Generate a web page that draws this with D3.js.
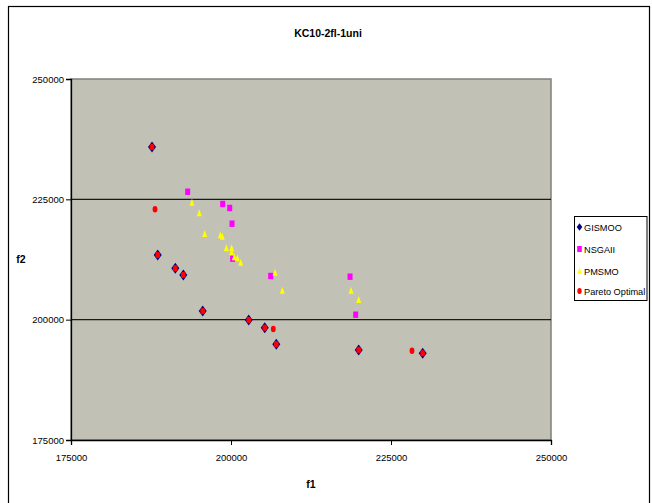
<!DOCTYPE html>
<html><head><meta charset="utf-8">
<script src="https://cdn.jsdelivr.net/npm/d3@7"></script>
<style>body{margin:0;background:#fff}svg{display:block}text{font-family:"Liberation Sans",Arial,sans-serif}</style>
</head><body><div id="chart"></div>
<script>
const xTicks = [175000, 200000, 225000, 250000];
const yTicks = [175000, 200000, 225000, 250000];
const seriesNames = ["GISMOO", "NSGAII", "PMSMO", "Pareto Optimal"];
const gismooF1 = [187660, 188550, 191300, 192550, 195580, 202770, 205270, 207080, 219950, 229950];
const gismooF2 = [235870, 213430, 210670, 209280, 201800, 199930, 198330, 194880, 193700, 193010];
const nsgaF1 = [193230, 198700, 199800, 200160, 200260, 206200, 218600, 219480];
const nsgaF2 = [226580, 224030, 223200, 219940, 212670, 209070, 208930, 201030];
const pmsmoF1 = [193900, 195050, 195890, 198330, 198640, 199270, 200100, 200100, 200520, 200990, 201520, 206880, 208020, 218750, 219950];
const pmsmoF2 = [224300, 222100, 217800, 217530, 217240, 214820, 214820, 214000, 212960, 212750, 211840, 209760, 206020, 206020, 204080];
const paretoF1 = [187660, 188550, 191300, 192550, 195580, 202770, 205270, 207080, 219950, 229950, 188130, 206610, 228280];
const paretoF2 = [235870, 213430, 210670, 209280, 201800, 199930, 198330, 194880, 193700, 193010, 222930, 198060, 193550];

const W = 652, H = 503;
const svg = d3.select("#chart").append("svg").attr("width", W).attr("height", H);
const x = d3.scaleLinear().domain([175000, 250000]).range([71, 551]);
const y = d3.scaleLinear().domain([175000, 250000]).range([440, 79]);

// outer frame
svg.append("rect").attr("x", 8.5).attr("y", 6.5).attr("width", 641).attr("height", 500)
  .attr("fill", "#fff").attr("stroke", "#000").attr("stroke-width", 1.2);

// plot area
svg.append("rect").attr("x", 71).attr("y", 79).attr("width", 480).attr("height", 361)
  .attr("fill", "#C1C1B6").attr("stroke", "#808078").attr("stroke-width", 1.5);

// gridlines
svg.append("g").selectAll("line").data(yTicks.filter(d => d > 175000 && d < 250000)).join("line")
  .attr("x1", 71).attr("x2", 551).attr("y1", d => y(d)).attr("y2", d => y(d))
  .attr("stroke", "#1a1a1a").attr("stroke-width", 1.3);

// axes
const xAxis = d3.axisBottom(x).tickValues(xTicks).tickFormat(d3.format("d")).tickSize(5).tickPadding(9);
const yAxis = d3.axisLeft(y).tickValues(yTicks).tickFormat(d3.format("d")).tickSize(5).tickPadding(2);
const gx = svg.append("g").attr("transform", "translate(0,440)").call(xAxis);
const gy = svg.append("g").attr("transform", "translate(71,0)").call(yAxis);
[gx, gy].forEach(g => {
  g.select(".domain").attr("stroke", "#000").attr("stroke-width", 1.3);
  g.selectAll(".tick line").attr("stroke", "#000");
  g.selectAll("text").attr("font-size", 9.5).attr("fill", "#000")
   .attr("font-family", '"Liberation Sans",Arial,sans-serif');
});

// titles
svg.append("text").attr("x", 328).attr("y", 37).attr("text-anchor", "middle")
  .attr("font-size", 10.5).attr("font-weight", "bold").text("KC10-2fl-1uni");
svg.append("text").attr("x", 311).attr("y", 488).attr("text-anchor", "middle")
  .attr("font-size", 10.5).attr("font-weight", "bold").text("f1");
svg.append("text").attr("x", 21).attr("y", 263).attr("text-anchor", "middle")
  .attr("font-size", 10.5).attr("font-weight", "bold").text("f2");

// marker shapes
const diamond = (cx, cy, s = 1) => `M${cx},${cy - 5.5 * s}L${cx + 4 * s},${cy}L${cx},${cy + 5.5 * s}L${cx - 4 * s},${cy}Z`;
const tri = (cx, cy, s = 1) => `M${cx},${cy - 4 * s}L${cx + 2.5 * s},${cy + 3 * s}L${cx - 2.5 * s},${cy + 3 * s}Z`;

const plot = svg.append("g");
plot.selectAll(".g").data(d3.zip(gismooF1, gismooF2)).join("path")
  .attr("d", d => diamond(x(d[0]), y(d[1]))).attr("fill", "#000080");
plot.selectAll(".n").data(d3.zip(nsgaF1, nsgaF2)).join("rect")
  .attr("x", d => x(d[0]) - 2.5).attr("y", d => y(d[1]) - 3.2).attr("width", 5).attr("height", 6.4)
  .attr("fill", "#FF00FF");
plot.selectAll(".p").data(d3.zip(pmsmoF1, pmsmoF2)).join("path")
  .attr("d", d => tri(x(d[0]), y(d[1]))).attr("fill", "#FFFF00");
plot.selectAll(".o").data(d3.zip(paretoF1, paretoF2)).join("ellipse")
  .attr("cx", d => x(d[0])).attr("cy", d => y(d[1])).attr("rx", 2.4).attr("ry", 3.3)
  .attr("fill", "#FF0000");

// legend
const lg = svg.append("g");
lg.append("rect").attr("x", 574.5).attr("y", 216.5).attr("width", 72.5).attr("height", 84)
  .attr("fill", "#fff").attr("stroke", "#000").attr("stroke-width", 1);
const ly = [227, 249, 271, 291];
seriesNames.forEach((name, i) => {
  const cx = 579.5, cy = ly[i];
  if (i === 0) lg.append("path").attr("d", diamond(cx, cy, 0.7)).attr("fill", "#000080");
  if (i === 1) lg.append("rect").attr("x", cx - 2.3).attr("y", cy - 3).attr("width", 4.6).attr("height", 6).attr("fill", "#FF00FF");
  if (i === 2) lg.append("path").attr("d", tri(cx, cy, 0.9)).attr("fill", "#FFFF00");
  if (i === 3) lg.append("ellipse").attr("cx", cx).attr("cy", cy).attr("rx", 2.2).attr("ry", 3).attr("fill", "#FF0000");
  lg.append("text").attr("x", 584).attr("y", cy + 3.5).attr("font-size", 9.2).text(name);
});
</script></body></html>
